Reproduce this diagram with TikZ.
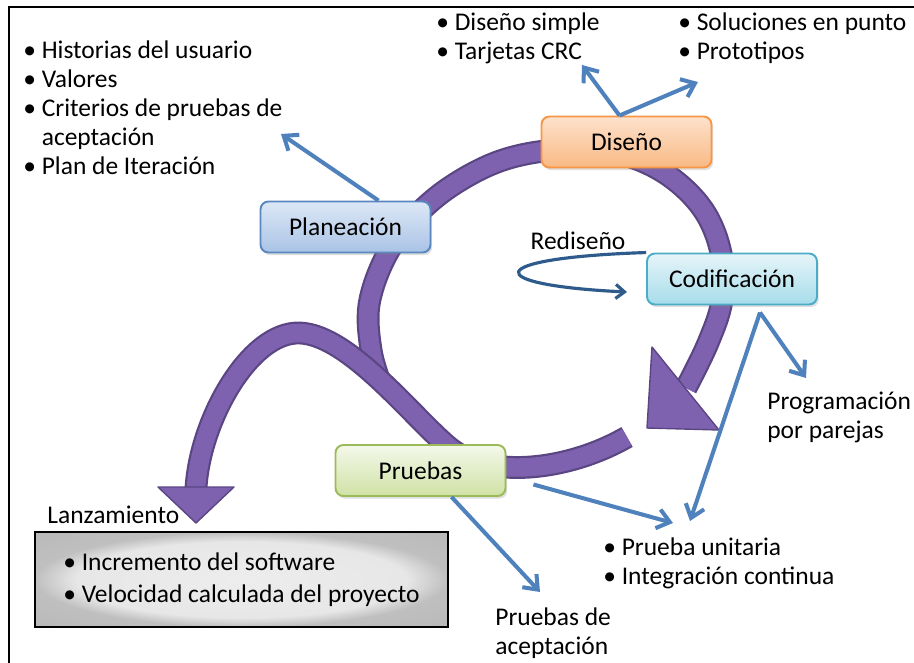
\documentclass[tikz,border=0pt]{standalone}
\usepackage{fontspec}
\setmainfont{Carlito}
\usetikzlibrary{arrows.meta,shadows,positioning,calc}

\definecolor{tubedark}{HTML}{5A4683}
\definecolor{tubebody}{HTML}{7E62AF}
\definecolor{infoblue}{HTML}{4F81BD}
\definecolor{redoblue}{HTML}{2F5A8C}
\definecolor{planline}{HTML}{5B87C0}
\definecolor{plantop}{HTML}{DCE8F6}
\definecolor{planbot}{HTML}{A9C3E6}
\definecolor{disline}{HTML}{F79646}
\definecolor{distop}{HTML}{FDE2CC}
\definecolor{disbot}{HTML}{F9B984}
\definecolor{codline}{HTML}{4BACC6}
\definecolor{codtop}{HTML}{E6F5F9}
\definecolor{codbot}{HTML}{A6DCEA}
\definecolor{pruline}{HTML}{9BBB59}
\definecolor{prutop}{HTML}{F4F8EA}
\definecolor{prubot}{HTML}{CFE2A5}

\pgfdeclareradialshading{rimshade}{\pgfpoint{0bp}{0bp}}{color(0bp)=(gray!14); color(20bp)=(gray!19); color(25bp)=(gray!50); color(50bp)=(gray!62)}

\begin{document}
\begin{tikzpicture}[x=0.02cm,y=-0.02cm]

  \tikzstyle{every node}=[font=\fontsize{14.5}{16.5}\selectfont]

  \tikzset{tube/.style={draw=tubedark, line width=13pt, line cap=butt,
      postaction={draw=tubebody, line width=10.5pt}}}
  \tikzset{tubehead/.style={fill=tubebody, draw=tubedark, line width=0.8pt, line join=round}}
  \tikzset{phase/.style n args={3}{draw=#1, top color=#2, bottom color=#3, line width=1.1pt,
      rounded corners=4.5pt, minimum width=3.4cm, minimum height=1.02cm,
      drop shadow={opacity=0.25, shadow xshift=1pt, shadow yshift=-1.5pt}}}
  \tikzset{info/.style={draw=infoblue, line width=2.3pt, -{Straight Barb[length=7pt, width=11pt]}}}
  \tikzset{redo/.style={draw=redoblue, line width=1.8pt, -{Straight Barb[length=5pt, width=8pt]}}}
  \tikzset{items/.style={align=left, inner sep=0pt, anchor=west}}

  % Frame
  \useasboundingbox (0,0) rectangle (914,663);
  \draw[line width=1.7pt] (9,663) -- (9,7) -- (914,7);

  % Iteration cycle
  \draw[tube] plot[smooth, tension=0.6] coordinates {(380,382) (371,350) (369,305) (385,258)
    (412,220) (450,187) (500,161) (555,150) (612,152) (663,172) (702,208) (721,253)
    (722,300) (708,343) (686,388)};
  \filldraw[tubehead] (652,347) -- (719,430) -- (647,428) -- cycle;

  % Branch towards the release
  \draw[tube] (627,437) .. controls (570,470) and (490,480) .. (450,448)
    .. controls (415,420) and (350,335) .. (300,333)
    .. controls (250,331) and (200,420) .. (196,488);
  \filldraw[tubehead] (158,487) -- (234,487) -- (196,523) -- cycle;

  % Phases
  \node[phase={planline}{plantop}{planbot}] (Planeacion) at (345.5,227) {Planeación};
  \node[phase={disline}{distop}{disbot}] (Diseno) at (626.5,142) {Diseño};
  \node[phase={codline}{codtop}{codbot}] (Codificacion) at (732,279) {Codificación};
  \node[phase={pruline}{prutop}{prubot}] (Pruebas) at (420.5,470.5) {Pruebas};

  % Release
  \node[draw=black, line width=1.4pt, shade, shading=rimshade, minimum width=8.26cm,
    minimum height=1.9cm, align=left, font=\fontsize{14.5}{18}\selectfont]
    (Lanzamiento box) at (241.5,579.5) {• Incremento del software\\• Velocidad calculada del proyecto};
  \node[anchor=base west, inner sep=0pt] (Lanzamiento) at (47,523) {Lanzamiento};

  % Notes
  \node[items] (Planeacion notes) at (23,108) {• Historias del usuario\\• Valores\\• Criterios de pruebas de\\\hphantom{• }aceptación\\• Plan de Iteración};
  \node[items] (Diseno notes) at (436,38) {• Diseño simple\\• Tarjetas CRC};
  \node[items] (Diseno extras) at (678,38) {• Soluciones en punto\\• Prototipos};
  \node[items] (Pareja notes) at (767,417) {Programación\\por parejas};
  \node[items] (Pruebas notes) at (603,563) {• Prueba unitaria\\• Integración continua};
  \node[items] (Aceptacion notes) at (495,633) {Pruebas de\\aceptación};
  \node (Rediseno) at (578,241) {Rediseño};

  % Connectors
  \coordinate (Planeacion tip) at (281,134);
  \draw[info] ($(Planeacion.north)+(33,0)$) -- (Planeacion tip);

  \coordinate (Diseno root) at ($(Diseno.north)+(-7,0)$);
  \coordinate (Diseno tip A) at (582,65);
  \coordinate (Diseno tip B) at (698,82);
  \draw[info] (Diseno root) -- (Diseno tip A);
  \draw[info] (Diseno root) -- (Diseno tip B);

  \coordinate (Codificacion root) at ($(Codificacion.south)+(28,7)$);
  \coordinate (Pareja tip) at (806,378);
  \coordinate (Unitaria tip) at (690,521);
  \draw[info] (Codificacion root) -- (Pareja tip);
  \draw[info] (Codificacion root) -- (Unitaria tip);

  \coordinate (Pruebas root) at ($(Pruebas.east)+(27,14)$);
  \coordinate (Integracion tip) at (673,523);
  \draw[info] (Pruebas root) -- (Integracion tip);
  \coordinate (Aceptacion tip) at (540,592);
  \draw[info] ($(Pruebas.south)+(31,0)$) -- (Aceptacion tip);

  % Redesign loop
  \coordinate (Rediseno tip) at (627,292);
  \draw[redo] (Codificacion.north west) .. controls (480,258) and (480,285) .. (Rediseno tip);

\end{tikzpicture}
\end{document}
